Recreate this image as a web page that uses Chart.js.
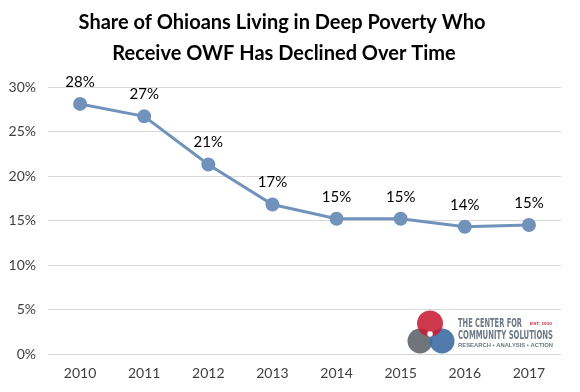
<!DOCTYPE html>
<html><head><meta charset="utf-8">
<script src="https://cdn.jsdelivr.net/npm/chart.js@4"></script>
<style>html,body{margin:0;padding:0;background:#fff}#wrap{width:580px;height:392px}</style>
</head><body><div id="wrap"><canvas id="c" width="580" height="392"></canvas></div>
<script>
const years = ['2010','2011','2012','2013','2014','2015','2016','2017'];
const shareReceivingOWF = [28.1, 26.7, 21.3, 16.8, 15.2, 15.2, 14.3, 14.5];
const yTickValues = [0, 5, 10, 15, 20, 25, 30];
const titleLines = ['Share of Ohioans Living in Deep Poverty Who', 'Receive OWF Has Declined Over Time'];
const FONT = "Lato, 'Open Sans', 'Liberation Sans', sans-serif";

const titlePlugin = {
  id: 'customTitle',
  afterDraw(chart) {
    const ctx = chart.ctx;
    ctx.save();
    ctx.font = "bold 20px " + FONT;
    ctx.fillStyle = '#000';
    ctx.textAlign = 'center';
    ctx.textBaseline = 'middle';
    ctx.fillText(titleLines[0], 282, 23);
    ctx.fillText(titleLines[1], 284, 54);
    ctx.restore();
  }
};

const labelPlugin = {
  id: 'pointLabels',
  afterDatasetsDraw(chart) {
    const ctx = chart.ctx;
    const meta = chart.getDatasetMeta(0);
    ctx.save();
    ctx.font = "15px " + FONT;
    ctx.fillStyle = '#000';
    ctx.textAlign = 'center';
    ctx.textBaseline = 'middle';
    meta.data.forEach((pt, i) => {
      ctx.fillText(Math.round(shareReceivingOWF[i]) + '%', pt.x, pt.y - 22);
    });
    ctx.restore();
  }
};

function fitText(ctx, text, x, y, w, font) {
  ctx.save();
  ctx.font = font;
  const m = ctx.measureText(text).width;
  ctx.translate(x, y);
  ctx.scale(w / m, 1);
  ctx.fillText(text, 0, 0);
  ctx.restore();
}

const logoPlugin = {
  id: 'logo',
  afterDraw(chart) {
    const ctx = chart.ctx;
    ctx.save();
    const circ = (x, y, r, c, a) => { ctx.save(); ctx.globalAlpha = a; ctx.beginPath(); ctx.arc(x, y, r, 0, Math.PI * 2); ctx.fillStyle = c; ctx.fill(); ctx.restore(); };
    circ(420, 341, 12.5, '#70757b', 1);
    circ(442, 341, 12.5, '#4270a6', 0.92);
    circ(430, 323.5, 13, '#c81e36', 0.88);
    circ(430, 334, 2.8, '#ffffff', 1);
    ctx.fillStyle = '#6e7886';
    ctx.textBaseline = 'alphabetic';
    ctx.textAlign = 'left';
    const cond = "bold 13px 'Liberation Sans Narrow', 'DejaVu Sans Condensed', 'Liberation Sans', sans-serif";
    fitText(ctx, 'THE CENTER FOR', 458, 327, 64, cond);
    fitText(ctx, 'COMMUNITY SOLUTIONS', 458, 339, 95, cond);
    ctx.fillStyle = '#c81e36';
    fitText(ctx, 'EST. 1910', 530, 325, 22, "bold 4px 'Liberation Sans', sans-serif");
    ctx.fillStyle = '#6e7886';
    fitText(ctx, 'RESEARCH \u2022 ANALYSIS \u2022 ACTION', 458, 346.5, 95, "bold 5px 'Liberation Sans', sans-serif");
    ctx.restore();
  }
};

new Chart(document.getElementById('c'), {
  type: 'line',
  data: {
    labels: years,
    datasets: [{
      data: shareReceivingOWF,
      borderColor: '#7193bb',
      backgroundColor: '#7193bb',
      borderWidth: 3,
      pointRadius: 5.5,
      pointHoverRadius: 5.5,
      pointBackgroundColor: '#7193bb',
      pointBorderColor: '#7193bb',
      tension: 0
    }]
  },
  options: {
    responsive: false,
    animation: false,
    layout: { padding: { left: 0, right: 19, top: 87, bottom: 0 } },
    plugins: {
      legend: { display: false },
      tooltip: { enabled: false },
      title: { display: false }
    },
    scales: {
      x: {
        offset: true,
        grid: { display: false, drawTicks: false },
        border: { display: false },
        ticks: { color: '#404040', font: { family: FONT, size: 14 }, padding: 11 },
        afterFit(axis) { axis.height = 38; }
      },
      y: {
        min: 0, max: 30,
        afterBuildTicks(axis) { axis.ticks = yTickValues.map(v => ({ value: v })); },
        ticks: { color: '#404040', font: { family: FONT, size: 14 }, padding: 12, callback: v => v + '%' },
        grid: { color: '#d9d9d9', drawTicks: false, lineWidth: 1 },
        border: { display: false },
        afterFit(axis) { axis.width = 48; }
      }
    }
  },
  plugins: [labelPlugin, logoPlugin, titlePlugin]
});
</script></body></html>
